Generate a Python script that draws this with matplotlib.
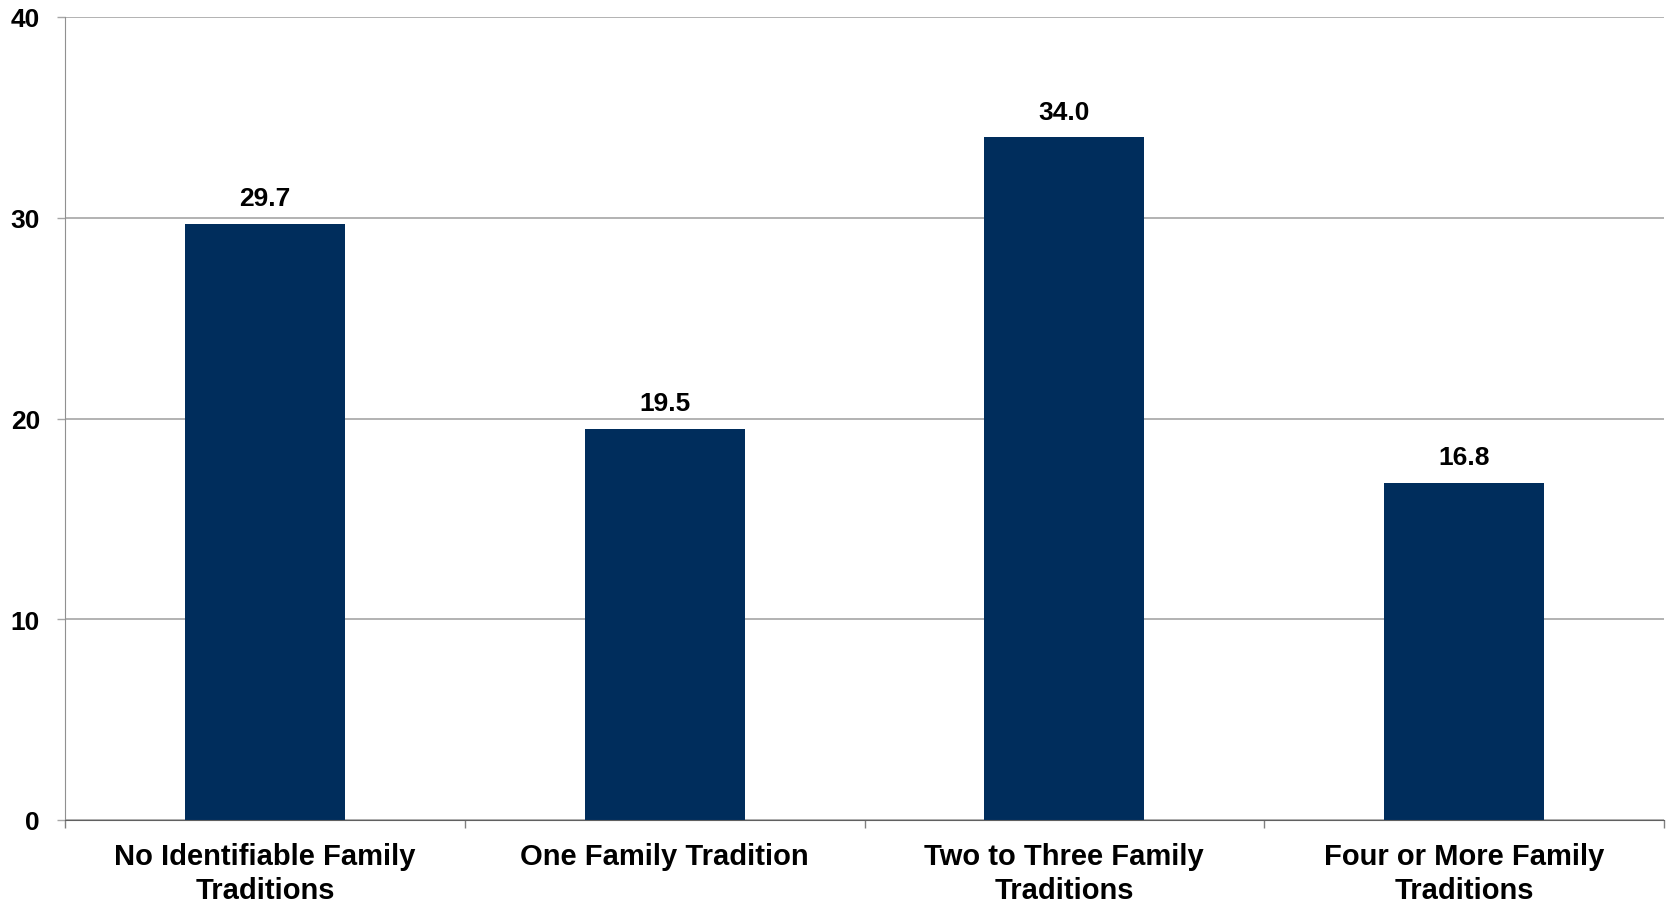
import numpy as np
import matplotlib.pyplot as plt

categories = ['No Identifiable Family\nTraditions', 'One Family Tradition',
              'Two to Three Family\nTraditions', 'Four or More Family\nTraditions']
values = [29.7, 19.5, 34.0, 16.8]

plt.rcParams['font.family'] = ['Liberation Sans', 'DejaVu Sans']
plt.rcParams['font.weight'] = 'bold'

fig = plt.figure(figsize=(16.69, 9.04), dpi=100)
ax = fig.add_axes([65 / 1669, 1 - 821 / 904, (1664 - 65) / 1669, (821 - 18) / 904])

x = np.arange(len(categories))
bars = ax.bar(x, values, width=0.4, color='#002D5C', zorder=3)

for xi, v in zip(x, values):
    ax.annotate(f'{v:.1f}', (xi, v), xytext=(0, 10), textcoords='offset points',
                ha='center', va='bottom', fontsize=19, fontweight='bold')

ax.set_xlim(-0.5, len(categories) - 0.5)
ax.set_ylim(0, 40)
ax.set_yticks([0, 10, 20, 30, 40])
ax.yaxis.grid(True, color='#A6A6A6', linewidth=1.2, zorder=0)

# category ticks sit on the boundaries between groups
ax.set_xticks(np.arange(-0.5, len(categories), 1.0))
ax.set_xticklabels([])
ax.set_xticks(x, minor=True)
ax.set_xticklabels(categories, minor=True, fontsize=21, fontweight='bold', linespacing=1.25)
ax.tick_params(axis='x', which='minor', length=0, pad=16)
ax.tick_params(axis='x', which='major', length=6, width=1, color='#808080', direction='out')
ax.tick_params(axis='y', length=6, width=1, color='#A6A6A6', pad=12, labelsize=19)

for side in ['top', 'right']:
    ax.spines[side].set_visible(False)
ax.spines['left'].set_color('#909090')
ax.spines['bottom'].set_color('#606060')
ax.spines['bottom'].set_zorder(4)

fig.savefig('out.png', dpi=100)
